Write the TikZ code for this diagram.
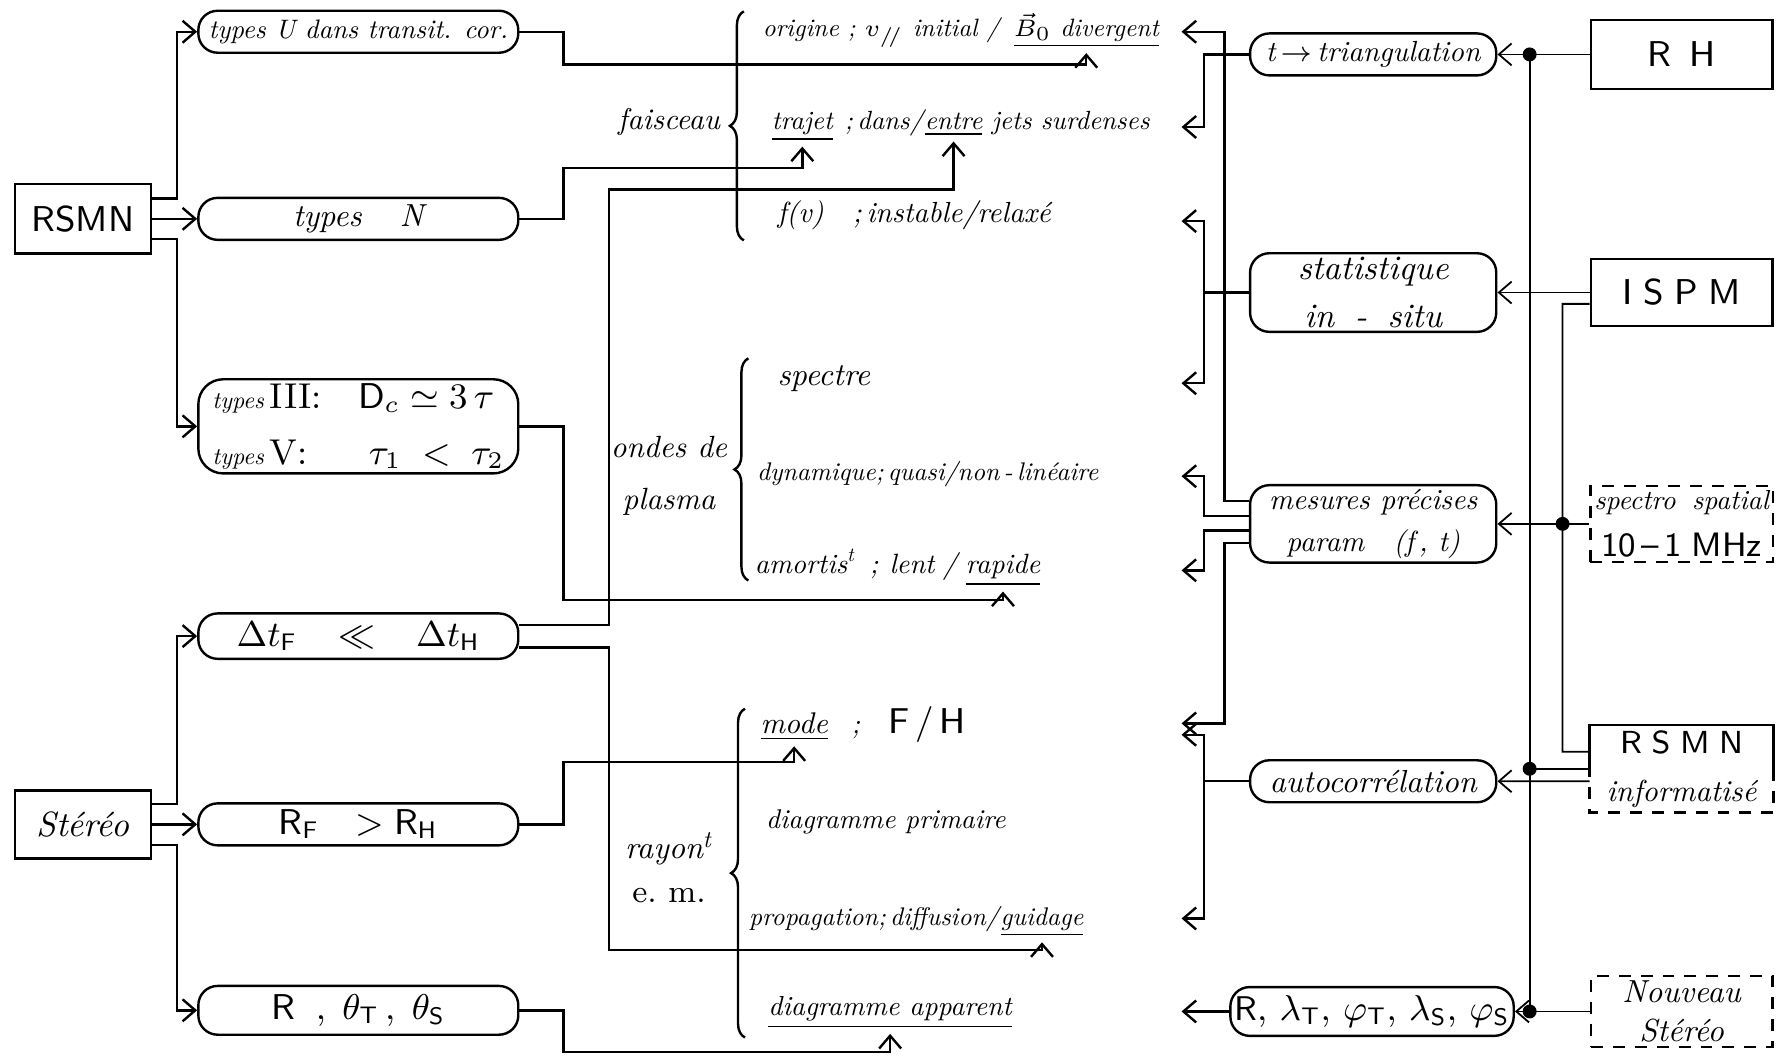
\documentclass[tikz,border=0pt]{standalone}
\usepackage{amsmath,amssymb}
\usepackage{fontspec}
\newfontfamily\hw{lmroman10-italic.otf}
\usetikzlibrary{arrows.meta,decorations.pathreplacing,calc}
\tikzset{
 ln/.style={line width=0.6pt},
 tln/.style={line width=0.45pt},
 arr/.style={ln, -{Straight Barb[length=3.2pt,width=5.5pt]}},
 tarr/.style={tln, -{Straight Barb[length=3.2pt,width=5.5pt]}},
 pill/.style={draw, ln, rounded corners=0.17cm, minimum width=2.82cm, minimum height=0.37cm, inner sep=1pt, align=center},
 rpill/.style={pill, minimum width=2.17cm},
 sq/.style={draw, ln, minimum width=1.6cm, minimum height=0.6cm, inner sep=1pt, align=center},
 dsq/.style={sq, dash pattern=on 3pt off 2.5pt},
 cur/.style={font=\hw\fontsize{7}{8}\selectfont, inner xsep=0pt, inner ysep=1.2pt, anchor=base west},
 lbl/.style={inner sep=1pt, align=center},
 brc/.style={ln, decorate, decoration={brace, amplitude=3.5pt}},
 dot/.style={circle, fill, inner sep=0pt, minimum size=3.5pt},
}
\begin{document}
\begin{tikzpicture}[x=0.01cm,y=-0.01cm]
\useasboundingbox (0,0) rectangle (1568,931);

% ---------------- left column ----------------
\node[sq, minimum width=1.2cm, minimum height=0.61cm] (rsmn) at (73,193) {\fontsize{9}{10}\selectfont\sffamily RSMN};
\node[sq, minimum width=1.2cm, minimum height=0.60cm] (st) at (73,727) {\hw\fontsize{8.8}{10}\selectfont Stéréo};

\node[pill] (tu) at (316,28) {\hw\fontsize{6.7}{8}\selectfont types U dans transit. cor.};
\node[pill] (tn) at (316,193) {\hw\fontsize{8}{9}\selectfont types\hspace{1.2em}N};
\node[pill, minimum height=0.83cm, rounded corners=0.22cm, align=left, font=\fontsize{9}{14}\selectfont] (t3) at (316,376)
 {{\hw\fontsize{6}{7}\selectfont types}\,III:\hspace{1em}$\mathsf{D}_c\simeq 3\,\tau$\\
  {\hw\fontsize{6}{7}\selectfont types}\,V:\hspace{1.7em}$\tau_1\;<\;\tau_2$};
\node[pill, minimum height=0.40cm] (dt) at (316,561) {\fontsize{9}{10}\selectfont$\Delta t_{\mathsf F}\;\;\;\ll\;\;\;\Delta t_{\mathsf H}$};
\node[pill] (rf) at (316,727) {\fontsize{9}{10}\selectfont$\mathsf{R}_{\mathsf F}\quad{>}\;\mathsf{R}_{\mathsf H}$};
\node[pill, minimum height=0.43cm] (rt) at (316,891) {\fontsize{9}{10}\selectfont$\mathsf{R}\;\;,\;\theta_{\mathsf T}\,,\;\theta_{\mathsf S}$};

\draw[arr] ([yshift=0.18cm]rsmn.east) -- ++(22,0) |- (tu.west);
\draw[arr] (rsmn.east) -- (tn.west);
\draw[arr] ([yshift=-0.18cm]rsmn.east) -- ++(22,0) |- (t3.west);
\draw[arr] ([yshift=0.18cm]st.east) -- ++(22,0) |- (dt.west);
\draw[arr] (st.east) -- (rf.west);
\draw[arr] ([yshift=-0.18cm]st.east) -- ++(22,0) |- (rt.west);

% ---------------- middle column ----------------
\node[lbl, font=\hw\fontsize{7.5}{9}\selectfont] (fais) at (590,108) {faisceau};
\node[lbl, font=\hw\fontsize{7.7}{13}\selectfont] (ondes) at (590,420) {ondes de\\plasma};
\node[lbl, font=\hw\fontsize{8}{11}\selectfont] (ray) at (590,765) {rayon\textsuperscript{t}\\{\rmfamily e.\ m.}};

\draw[brc] (656,212) -- (656,10);
\draw[brc] (660,512) -- (660,316);
\draw[brc] (657,915) -- (657,625);

\node[cur, font=\hw\fontsize{6.3}{8}\selectfont] (o1a) at (672,32) {origine ; $v_{/\!/}$ initial /\hspace{0.5em}\null};
\node[cur, font=\hw\fontsize{6.3}{8}\selectfont] (o1b) at (o1a.base east) {\underline{$\vec{B}_{0}$ divergent}};

\node[cur, font=\hw\fontsize{6.6}{8}\selectfont] (o2a) at (680,114) {\underline{trajet}};
\node[cur, font=\hw\fontsize{6.6}{8}\selectfont] (o2b) at (o2a.base east) {\hspace{0.4em};\,dans/};
\node[cur, font=\hw\fontsize{6.6}{8}\selectfont] (o2c) at (o2b.base east) {\underline{entre}};
\node[cur, font=\hw\fontsize{6.6}{8}\selectfont] (o2d) at (o2c.base east) {\hspace{0.3em}jets surdenses};

\node[cur, font=\hw\fontsize{7.3}{9}\selectfont] (o3) at (685,196) {f(v)\hspace{1em};\,instable/relaxé};

\node[cur, font=\hw\fontsize{8}{9}\selectfont] (p1) at (685,340) {spectre};
\node[cur, font=\hw\fontsize{6.4}{8}\selectfont] (p2) at (667,424) {dynamique;\,quasi/non\,-\,linéaire};
\node[cur] (p3a) at (665,506) {amortis\textsuperscript{t}\hspace{0.5em};\hspace{0.4em}lent\hspace{0.3em}/\hspace{0.25em}\null};
\node[cur] (p3b) at (p3a.base east) {\underline{rapide}};

\node[cur, font=\hw\fontsize{7.5}{9}\selectfont] (e1a) at (670,647) {\underline{mode}};
\node[cur] (e1b) at (e1a.base east) {\hspace{0.8em};\hspace{1em}{\sffamily\fontsize{9}{10}\selectfont F\,/\,H}};
\node[cur, font=\hw\fontsize{6.8}{8}\selectfont] (e2) at (675,731) {diagramme primaire};
\node[cur, font=\hw\fontsize{6.4}{8}\selectfont] (e3a) at (660,816) {propagation;\,diffusion/};
\node[cur, font=\hw\fontsize{6.4}{8}\selectfont] (e3b) at (e3a.base east) {\underline{guidage}};
\node[cur, font=\hw\fontsize{6.9}{8}\selectfont] (e4) at (677,896) {\underline{diagramme apparent}};

\draw[arr] (tu.east) -| (497,57) -| (o1b.south);
\draw[arr] (tn.east) -| (497,148) -| (o2a.south);
\draw[arr] ([yshift=0.1cm]dt.east) -| (537,167) -| (o2c.south);
\draw[arr] ([yshift=-0.1cm]dt.east) -| (537,838) -| (e3b.south);
\draw[arr] (t3.east) -| (497,529) -| (p3b.south);
\draw[arr] (rf.east) -| (497,672) -| (e1a.south);
\draw[arr] (rt.east) -| (497,928) -| (e4.south);

% ---------------- right column ----------------
\node[rpill] (tri) at (1211,48) {\hw\fontsize{7.3}{9}\selectfont t\,$\rightarrow$\,triangulation};
\node[rpill, minimum height=0.62cm, font=\hw\fontsize{8.6}{12}\selectfont] (stat) at (1211,258) {statistique\\in\hspace{0.6em}-\hspace{0.6em}situ};
\node[rpill, minimum height=0.60cm, font=\hw\fontsize{7.3}{10.5}\selectfont] (mes) at (1211,462) {mesures précises\\param\hspace{1em}(f\,,\ t)};
\node[rpill, font=\hw\fontsize{8}{9}\selectfont] (auto) at (1211,689) {autocorrélation};
\node[rpill, minimum width=2.2cm, minimum height=0.43cm] (rl) at (1210,892) {\fontsize{8.6}{10}\selectfont$\mathsf{R},\,\lambda_{\mathsf T},\,\varphi_{\mathsf T},\,\lambda_{\mathsf S},\,\varphi_{\mathsf S}$};

\node[sq, minimum height=0.61cm] (rh) at (1483,48) {\fontsize{9}{10}\selectfont\sffamily R\hspace{0.5em}H};
\node[sq, minimum height=0.59cm] (ispm) at (1483,258) {\fontsize{9}{10}\selectfont\sffamily I\hspace{0.3em}S\hspace{0.3em}P\hspace{0.3em}M};
\node[dsq] (spec) at (1483,462) {{\hw\fontsize{6.9}{10}\selectfont spectro\hspace{0.6em}spatial}\\{\fontsize{8.5}{10}\selectfont\sffamily 10\,–\,1\;MHz}};
\node[sq, draw=none] (rsmni) at (1483,678) {{\fontsize{8}{10}\selectfont\sffamily R\hspace{0.3em}S\hspace{0.3em}M\hspace{0.3em}N}\\{\hw\fontsize{7.6}{9}\selectfont informatisé}};
\draw[ln] (rsmni.west) |- (rsmni.north) -| (rsmni.east);
\draw[ln, dash pattern=on 3pt off 2.5pt] (rsmni.east) |- (rsmni.south) -| (rsmni.west);
\node[dsq, minimum height=0.63cm, font=\hw\fontsize{8}{10}\selectfont] (ns) at (1483,892) {Nouveau\\Stéréo};

\node[dot] (d1) at (1349,48) {};
\node[dot] (d2) at (1349,678) {};
\node[dot] (d3) at (1349,892) {};
\node[dot] (d4) at (1378,462) {};

\draw[tarr] (rh.west) -- (tri.east);
\draw[tarr] (ispm.west) -- (stat.east);
\draw[tarr] (spec.west) -- (mes.east);
\draw[tarr] ([yshift=-0.11cm]rsmni.west) -- (auto.east);
\draw[tarr] (ns.west) -- (rl.east);
\draw[tln] (d1.center) -- (d3.center);
\draw[tln] (rsmni.west) -- (d2.center);
\draw[tln] ([yshift=-0.1cm]ispm.west) -| (1378,663) -- ([yshift=0.15cm]rsmni.west);

% arrows toward the middle column
\coordinate (r1) at (1042,28);
\coordinate (r2) at (1042,112);
\coordinate (r3) at (1042,195);
\coordinate (r4) at (1042,338);
\coordinate (r5) at (1042,420);
\coordinate (r6) at (1042,503);
\coordinate (r7a) at (1042,638);
\coordinate (r7b) at (1042,648);
\coordinate (r8) at (1042,810);
\coordinate (r9) at (1042,892);

\draw[arr] ([yshift=0.2cm]mes.west) -| (1080,28) -- (r1);
\draw[arr] (tri.west) -| (1062,112) -- (r2);
\draw[ln] (stat.west) -- (1062,258);
\draw[arr] (1062,258) |- (r3);
\draw[arr] (1062,258) |- (r4);
\draw[arr] ([yshift=0.07cm]mes.west) -| (1062,420) -- (r5);
\draw[arr] ([yshift=-0.06cm]mes.west) -| (1062,503) -- (r6);
\draw[arr] ([yshift=-0.17cm]mes.west) -| (1080,638) -- (r7a);
\draw[ln] (auto.west) -- (1062,689);
\draw[arr] (1062,689) |- (r7b);
\draw[arr] (1062,689) |- (r8);
\draw[arr] (rl.west) -- (r9);
\end{tikzpicture}
\end{document}
